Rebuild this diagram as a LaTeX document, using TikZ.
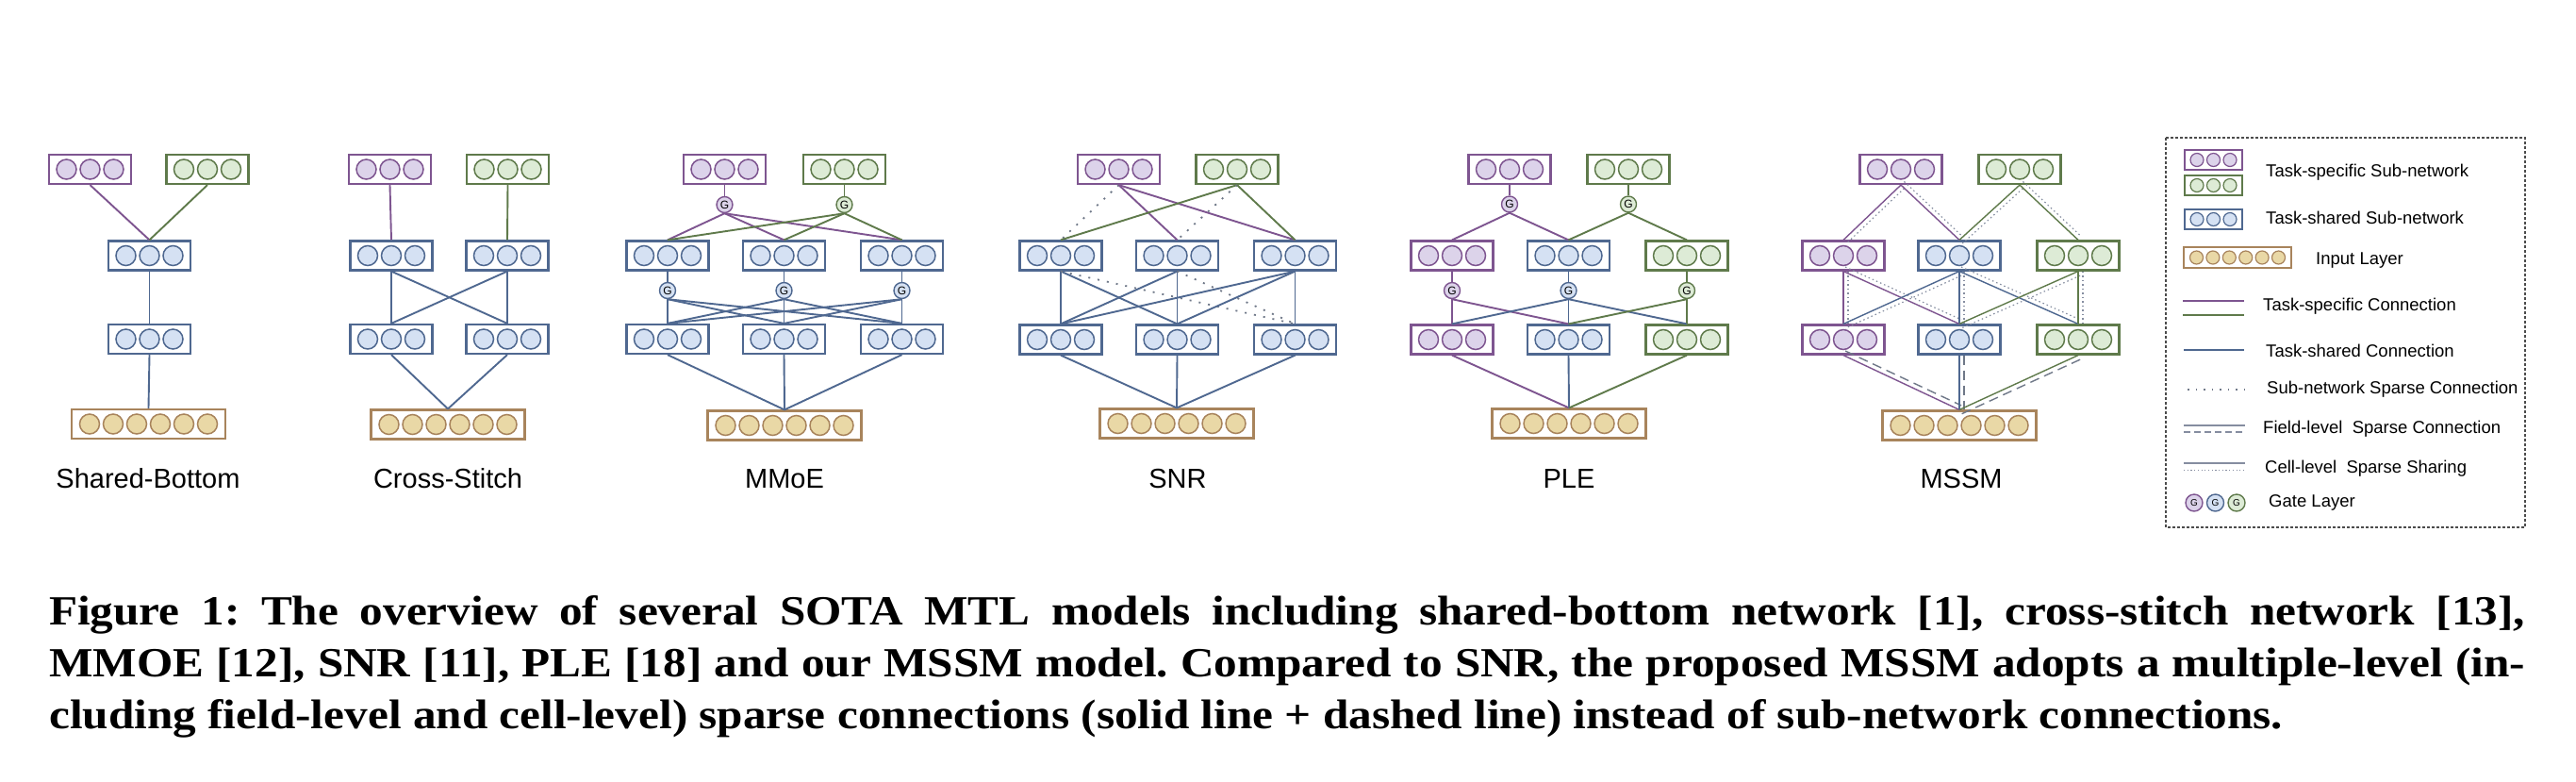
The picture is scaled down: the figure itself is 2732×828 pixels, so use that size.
\documentclass[tikz,border=0pt]{standalone}
\usepackage{fontspec}
\usepackage{graphicx}
\usetikzlibrary{calc}
\newfontfamily\labfont{Liberation Sans}
\newfontfamily\capfont{Liberation Serif}
\definecolor{Pline}{HTML}{7E5590}
\definecolor{Pfill}{HTML}{DCD3EA}
\definecolor{Gline}{HTML}{5F7A4B}
\definecolor{Gfill}{HTML}{DDEBD6}
\definecolor{Bline}{HTML}{4F6890}
\definecolor{Bfill}{HTML}{D5E1F3}
\definecolor{Iline}{HTML}{A8845C}
\definecolor{Ifill}{HTML}{E9D8A6}
\definecolor{Sgray}{HTML}{6F7888}
\definecolor{Lgray}{HTML}{858DA0}
\tikzset{
  box/.style={draw, fill=white, rectangle, minimum width=87pt, minimum height=31pt, inner sep=0pt, line width=2.2pt},
  ibox/.style={draw=Iline, fill=white, rectangle, minimum width=163pt, minimum height=31pt, inner sep=0pt, line width=2.2pt},
  lbox/.style={draw, fill=white, rectangle, minimum width=61pt, minimum height=21pt, inner sep=0pt, line width=1.8pt},
  libox/.style={draw=Iline, fill=white, rectangle, minimum width=114pt, minimum height=22pt, inner sep=0pt, line width=1.8pt},
  neuron/.style={line width=1.5pt},
  gate/.style={circle, draw, line width=1.4pt, minimum size=17pt, inner sep=0pt, font=\labfont\fontsize{12}{12}\selectfont},
  conn/.style={line width=1.9pt},
  tconn/.style={line width=1.4pt},
  sdot/.style={draw=Sgray, line width=1.8pt, dash pattern=on 2pt off 8pt},
  cdot/.style={draw=Lgray, line width=1.2pt, dash pattern=on 1.5pt off 3pt},
  fdash/.style={draw=Sgray, line width=1.4pt, dash pattern=on 10pt off 6pt},
  lab/.style={anchor=base, inner sep=0pt, font=\labfont\fontsize{29}{34}\selectfont},
  ltext/.style={anchor=west, inner sep=0pt, font=\labfont\fontsize{18.5}{22}\selectfont},
  capline/.style={anchor=base west, inner sep=0pt},
  legbox/.style={draw=black!70, line width=1.1pt, dash pattern=on 3pt off 2pt}
}
\newcommand{\capstyle}{\capfont\bfseries\fontsize{44}{50}\selectfont\frenchspacing}
\newcommand{\capone}{Figure 1: The overview of several SOTA MTL models including shared-bottom network [1], cross-stitch network [13],}
\newcommand{\captwo}{MMOE [12], SNR [11], PLE [18] and our MSSM model. Compared to SNR, the proposed MSSM adopts a multiple-level (in-}
\newcommand{\capthree}{cluding field-level and cell-level) sparse connections (solid line + dashed line) instead of sub-network connections.}
\newlength\capL
\newlength\capLb
\newcommand{\tri}[4]{%
  \node[box, draw=#4line] (#1) at (#2,#3) {};
  \foreach \k in {-25,0,25}{\draw[neuron, draw=#4line, fill=#4fill] ($(#1.center)+(\k,0)$) circle (10.5pt);}
}
\newcommand{\inp}[3]{%
  \node[ibox] (#1) at (#2,#3) {};
  \foreach \k in {-62.5,-37.5,-12.5,12.5,37.5,62.5}{\draw[neuron, draw=Iline, fill=Ifill] ($(#1.center)+(\k,0)$) circle (10.5pt);}
}
\newcommand{\ltri}[4]{%
  \node[lbox, draw=#4line] (#1) at (#2,#3) {};
  \foreach \k in {-17.5,0,17.5}{\draw[line width=1.2pt, draw=#4line, fill=#4fill] ($(#1.center)+(\k,0)$) circle (7pt);}
}
\newcommand{\cellpair}[3]{%
  \draw[tconn, #1] (#2.south) -- (#3.north);
  \draw[cdot] ($(#2.south)!5pt!90:(#3.north)$) -- ($(#3.north)!5pt!-90:(#2.south)$);
}
\newcommand{\fieldpair}[3]{%
  \draw[tconn, #1] (#2.south) -- (#3.north);
  \draw[fdash] ($(#2.south)!5pt!90:(#3.north)$) -- ($(#3.north)!5pt!-90:(#2.south)$);
}
\begin{document}
\settowidth\capL{\capstyle\capthree}%
\settowidth\capLb{\capstyle\captwo}%
\pgfmathsetmacro\capS{min(2370/(\capL/1pt),2610/(\capLb/1pt))}%
\pgfmathsetmacro\capW{2626/\capS}%
\begin{tikzpicture}[x=1pt,y=-1pt]
\useasboundingbox (0,0) rectangle (2732,828);

% ---------------- Shared-Bottom
\tri{sbP}{95.5}{179.5}{P}
\tri{sbG}{220}{179.5}{G}
\tri{sbM}{158.5}{271}{B}
\tri{sbL}{158.5}{359.5}{B}
\inp{sbI}{157.5}{449.5}
\draw[conn,Pline] (sbP.south) -- (sbM.north);
\draw[conn,Gline] (sbG.south) -- (sbM.north);
\draw[conn,Bline] (sbM.south) -- (sbL.north);
\draw[conn,Bline] (sbL.south) -- (sbI.north);
\node[lab] (sbT) at (157,517) {Shared-Bottom};

% ---------------- Cross-Stitch
\tri{csP}{413.5}{179.5}{P}
\tri{csG}{538.5}{179.5}{G}
\tri{csM1}{415}{271}{B}
\tri{csM2}{538}{271}{B}
\tri{csL1}{415}{359.5}{B}
\tri{csL2}{538}{359.5}{B}
\inp{csI}{475}{450}
\draw[conn,Pline] (csP.south) -- (csM1.north);
\draw[conn,Gline] (csG.south) -- (csM2.north);
\foreach \a in {csM1,csM2}{\foreach \b in {csL1,csL2}{\draw[conn,Bline] (\a.south) -- (\b.north);}}
\draw[conn,Bline] (csL1.south) -- (csI.north);
\draw[conn,Bline] (csL2.south) -- (csI.north);
\node[lab] (csT) at (475,517) {Cross-Stitch};

% ---------------- MMoE
\tri{mmP}{768.5}{179.5}{P}
\tri{mmG}{895.5}{179.5}{G}
\node[gate, draw=Pline, fill=Pfill] (mmgP) at (768.5,217) {G};
\node[gate, draw=Gline, fill=Gfill] (mmgG) at (895.5,217) {G};
\tri{mmM1}{708}{271}{B}
\tri{mmM2}{831.5}{271}{B}
\tri{mmM3}{956.5}{271}{B}
\node[gate, draw=Bline, fill=Bfill] (mmg1) at (708,308) {G};
\node[gate, draw=Bline, fill=Bfill] (mmg2) at (831.5,308) {G};
\node[gate, draw=Bline, fill=Bfill] (mmg3) at (956.5,308) {G};
\tri{mmL1}{708}{359.5}{B}
\tri{mmL2}{831.5}{359.5}{B}
\tri{mmL3}{956.5}{359.5}{B}
\inp{mmI}{832}{451}
\draw[conn,Pline] (mmP.south) -- (mmgP.north);
\draw[conn,Gline] (mmG.south) -- (mmgG.north);
\foreach \b in {mmM1,mmM2,mmM3}{\draw[conn,Pline] (mmgP.south) -- (\b.north);}
\foreach \b in {mmM1,mmM2,mmM3}{\draw[conn,Gline] (mmgG.south) -- (\b.north);}
\draw[conn,Bline] (mmM1.south) -- (mmg1.north);
\draw[conn,Bline] (mmM2.south) -- (mmg2.north);
\draw[conn,Bline] (mmM3.south) -- (mmg3.north);
\foreach \a in {mmg1,mmg2,mmg3}{\foreach \b in {mmL1,mmL2,mmL3}{\draw[conn,Bline] (\a.south) -- (\b.north);}}
\foreach \a in {mmL1,mmL2,mmL3}{\draw[conn,Bline] (\a.south) -- (mmI.north);}
\node[lab] (mmT) at (832,517) {MMoE};

% ---------------- SNR
\tri{snP}{1186.5}{179.5}{P}
\tri{snG}{1312}{179.5}{G}
\tri{snM1}{1125}{271}{B}
\tri{snM2}{1248.5}{271}{B}
\tri{snM3}{1373.5}{271}{B}
\tri{snL1}{1125}{360}{B}
\tri{snL2}{1248.5}{360}{B}
\tri{snL3}{1373.5}{360}{B}
\inp{snI}{1248}{449}
\draw[sdot] (snP.south) -- (snM1.north);
\draw[conn,Pline] (snP.south) -- (snM2.north);
\draw[conn,Pline] (snP.south) -- (snM3.north);
\draw[conn,Gline] (snG.south) -- (snM1.north);
\draw[sdot] (snG.south) -- (snM2.north);
\draw[conn,Gline] (snG.south) -- (snM3.north);
\draw[conn,Bline] (snM1.south) -- (snL1.north);
\draw[conn,Bline] (snM1.south) -- (snL2.north);
\draw[sdot] (snM1.south) -- (snL3.north);
\draw[conn,Bline] (snM2.south) -- (snL1.north);
\draw[conn,Bline] (snM2.south) -- (snL2.north);
\draw[sdot] (snM2.south) -- (snL3.north);
\foreach \b in {snL1,snL2,snL3}{\draw[conn,Bline] (snM3.south) -- (\b.north);}
\foreach \a in {snL1,snL2,snL3}{\draw[conn,Bline] (\a.south) -- (snI.north);}
\node[lab] (snT) at (1249,517) {SNR};

% ---------------- PLE
\tri{plP}{1601}{179.5}{P}
\tri{plG}{1727}{179.5}{G}
\node[gate, draw=Pline, fill=Pfill] (plgP) at (1601,216.5) {G};
\node[gate, draw=Gline, fill=Gfill] (plgG) at (1727,216.5) {G};
\tri{plM1}{1540}{271}{P}
\tri{plM2}{1663.5}{271}{B}
\tri{plM3}{1789}{271}{G}
\node[gate, draw=Pline, fill=Pfill] (plg1) at (1540,308) {G};
\node[gate, draw=Bline, fill=Bfill] (plg2) at (1663.5,308) {G};
\node[gate, draw=Gline, fill=Gfill] (plg3) at (1789,308) {G};
\tri{plL1}{1540}{360}{P}
\tri{plL2}{1663.5}{360}{B}
\tri{plL3}{1789}{360}{G}
\inp{plI}{1664}{449}
\draw[conn,Pline] (plP.south) -- (plgP.north);
\draw[conn,Gline] (plG.south) -- (plgG.north);
\draw[conn,Pline] (plgP.south) -- (plM1.north);
\draw[conn,Pline] (plgP.south) -- (plM2.north);
\draw[conn,Gline] (plgG.south) -- (plM2.north);
\draw[conn,Gline] (plgG.south) -- (plM3.north);
\draw[conn,Pline] (plM1.south) -- (plg1.north);
\draw[conn,Bline] (plM2.south) -- (plg2.north);
\draw[conn,Gline] (plM3.south) -- (plg3.north);
\draw[conn,Pline] (plg1.south) -- (plL1.north);
\draw[conn,Pline] (plg1.south) -- (plL2.north);
\foreach \b in {plL1,plL2,plL3}{\draw[conn,Bline] (plg2.south) -- (\b.north);}
\draw[conn,Gline] (plg3.south) -- (plL2.north);
\draw[conn,Gline] (plg3.south) -- (plL3.north);
\draw[conn,Pline] (plL1.south) -- (plI.north);
\draw[conn,Bline] (plL2.south) -- (plI.north);
\draw[conn,Gline] (plL3.south) -- (plI.north);
\node[lab] (plT) at (1664,517) {PLE};

% ---------------- MSSM
\tri{msP}{2016}{179.5}{P}
\tri{msG}{2142}{179.5}{G}
\tri{msM1}{1955}{271}{P}
\tri{msM2}{2078}{271}{B}
\tri{msM3}{2204}{271}{G}
\tri{msL1}{1955}{360}{P}
\tri{msL2}{2078}{360}{B}
\tri{msL3}{2204}{360}{G}
\inp{msI}{2078}{451}
\cellpair{Pline}{msP}{msM1}
\cellpair{Pline}{msP}{msM2}
\cellpair{Gline}{msG}{msM2}
\cellpair{Gline}{msG}{msM3}
\cellpair{Pline}{msM1}{msL1}
\cellpair{Pline}{msM1}{msL2}
\cellpair{Bline}{msM2}{msL1}
\cellpair{Bline}{msM2}{msL2}
\cellpair{Bline}{msM2}{msL3}
\cellpair{Gline}{msM3}{msL2}
\cellpair{Gline}{msM3}{msL3}
\fieldpair{Pline}{msL1}{msI}
\fieldpair{Bline}{msL2}{msI}
\fieldpair{Gline}{msL3}{msI}
\node[lab] (msT) at (2080,517) {MSSM};

% ---------------- Legend
\draw[legbox] (2297,146) rectangle (2678,559);
\ltri{lgP}{2347.5}{169.5}{P}
\ltri{lgG}{2347.5}{196.5}{G}
\ltri{lgB}{2347.5}{232.5}{B}
\node[libox] (lgI) at (2373,273) {};
\foreach \k in {-43.5,-26.1,-8.7,8.7,26.1,43.5}{\draw[line width=1.2pt, draw=Iline, fill=Ifill] ($(lgI.center)+(\k,0)$) circle (7pt);}
\node[ltext] (lt1) at (2403,183) {Task-specific Sub-network};
\node[ltext] (lt2) at (2403,231) {Task-shared Sub-network};
\node[ltext] (lt3) at (2456,276) {Input Layer};
\coordinate (a1) at (2315,319); \coordinate (b1) at (2380,319);
\coordinate (a2) at (2315,334); \coordinate (b2) at (2380,334);
\draw[tconn,Pline] (a1) -- (b1);
\draw[tconn,Gline] (a2) -- (b2);
\node[ltext] (lt4) at (2400,325) {Task-specific Connection};
\coordinate (a3) at (2316,371); \coordinate (b3) at (2380,371);
\draw[tconn,Bline] (a3) -- (b3);
\node[ltext] (lt5) at (2403,372) {Task-shared Connection};
\coordinate (a4) at (2320,413); \coordinate (b4) at (2380,413);
\draw[draw=Sgray, line width=1.2pt, dash pattern=on 1.5pt off 7pt] (a4) -- (b4);
\node[ltext] (lt6) at (2404,413) {Sub-network Sparse Connection};
\coordinate (a5) at (2316,451); \coordinate (b5) at (2381,451);
\coordinate (a6) at (2316,458); \coordinate (b6) at (2381,458);
\draw[line width=1.1pt, Lgray] (a5) -- (b5);
\draw[line width=1.1pt, Lgray, dash pattern=on 7pt off 4pt] (a6) -- (b6);
\node[ltext] (lt7) at (2400,455) {Field-level~~Sparse Connection};
\coordinate (a7) at (2316,491); \coordinate (b7) at (2381,491);
\coordinate (a8) at (2316,498); \coordinate (b8) at (2381,498);
\draw[line width=1.1pt, Lgray] (a7) -- (b7);
\draw[line width=1pt, Lgray, dash pattern=on 1.2pt off 2.5pt] (a8) -- (b8);
\node[ltext] (lt8) at (2402,497) {Cell-level~~Sparse Sharing};
\node[gate, draw=Pline, fill=Pfill, minimum size=18pt, font=\labfont\fontsize{10}{10}\selectfont] (lg1) at (2327,533) {G};
\node[gate, draw=Bline, fill=Bfill, minimum size=18pt, font=\labfont\fontsize{10}{10}\selectfont] (lg2) at (2349.5,533) {G};
\node[gate, draw=Gline, fill=Gfill, minimum size=18pt, font=\labfont\fontsize{10}{10}\selectfont] (lg3) at (2372,533) {G};
\node[ltext] (lt9) at (2406,533) {Gate Layer};

% ---------------- Caption
\node[capline] (cap1) at (52,662) {\scalebox{\capS}[1]{\capstyle\makebox[\capW pt][s]{\capone}}};
\node[capline] (cap2) at (52,717) {\scalebox{\capS}[1]{\capstyle\makebox[\capW pt][s]{\captwo}}};
\node[capline] (cap3) at (52,772) {\scalebox{\capS}[1]{\capstyle\capthree}};
\end{tikzpicture}
\end{document}
